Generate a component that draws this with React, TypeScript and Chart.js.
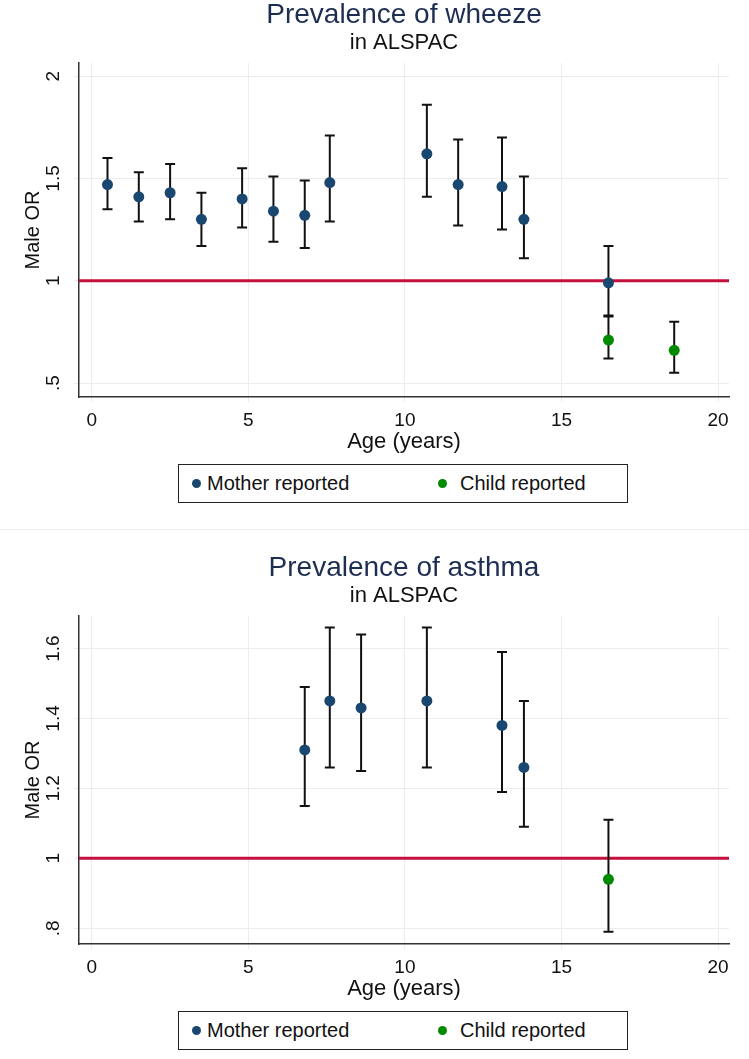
import { useEffect, useRef } from "react";
import { Chart, registerables } from "chart.js";

Chart.register(...registerables);

const FONT = "'Liberation Sans', Arial, Helvetica, sans-serif";
const NAVY = "#1a476f";
const GREEN = "#008a00";
const REF_RED = "#c4103d";
const TITLE_COLOR = "#1e2e52";

// wheeze: mother reported
const wheezeMotherAge = [0.5, 1.5, 2.5, 3.5, 4.8, 5.8, 6.8, 7.6, 10.7, 11.7, 13.1, 13.8, 16.5];
const wheezeMotherOR = [1.47, 1.41, 1.43, 1.3, 1.4, 1.34, 1.32, 1.48, 1.62, 1.47, 1.46, 1.3, 0.99];
const wheezeMotherLo = [1.35, 1.29, 1.3, 1.17, 1.26, 1.19, 1.16, 1.29, 1.41, 1.27, 1.25, 1.11, 0.825];
const wheezeMotherHi = [1.6, 1.53, 1.57, 1.43, 1.55, 1.51, 1.49, 1.71, 1.86, 1.69, 1.7, 1.51, 1.17];
// wheeze: child reported
const wheezeChildAge = [16.5, 18.6];
const wheezeChildOR = [0.71, 0.66];
const wheezeChildLo = [0.62, 0.55];
const wheezeChildHi = [0.83, 0.8];

// asthma: mother reported
const asthmaMotherAge = [6.8, 7.6, 8.6, 10.7, 13.1, 13.8];
const asthmaMotherOR = [1.31, 1.45, 1.43, 1.45, 1.38, 1.26];
const asthmaMotherLo = [1.15, 1.26, 1.25, 1.26, 1.19, 1.09];
const asthmaMotherHi = [1.49, 1.66, 1.64, 1.66, 1.59, 1.45];
// asthma: child reported
const asthmaChildAge = [16.5];
const asthmaChildOR = [0.94];
const asthmaChildLo = [0.79];
const asthmaChildHi = [1.11];

const xTicks = [0, 5, 10, 15, 20];
const wheezeYTicks = [0.5, 1, 1.5, 2];
const wheezeYLabels = [".5", "1", "1.5", "2"];
const asthmaYTicks = [0.8, 1, 1.2, 1.4, 1.6];
const asthmaYLabels = [".8", "1", "1.2", "1.4", "1.6"];
const referenceOR = 1;

function points(age: number[], or: number[], lo: number[], hi: number[]) {
  return age.map((a, i) => ({ x: a, y: or[i], lo: lo[i], hi: hi[i] }));
}

function makeDecor(yTicks: number[], yLabels: string[]) {
  return {
    id: "orDecor",
    beforeDatasetsDraw(chart: any) {
      const { ctx, chartArea, scales } = chart;
      const yRef = scales.y.getPixelForValue(referenceOR);
      ctx.save();
      ctx.strokeStyle = REF_RED;
      ctx.lineWidth = 3;
      ctx.beginPath();
      ctx.moveTo(chartArea.left, yRef);
      ctx.lineTo(chartArea.right, yRef);
      ctx.stroke();

      // confidence intervals
      ctx.strokeStyle = "#111";
      ctx.lineWidth = 2;
      chart.data.datasets.forEach((ds: any) => {
        ds.data.forEach((p: any) => {
          const x = scales.x.getPixelForValue(p.x);
          const lo = scales.y.getPixelForValue(p.lo);
          const hi = scales.y.getPixelForValue(p.hi);
          ctx.beginPath();
          ctx.moveTo(x, lo);
          ctx.lineTo(x, hi);
          ctx.moveTo(x - 5, lo);
          ctx.lineTo(x + 5, lo);
          ctx.moveTo(x - 5, hi);
          ctx.lineTo(x + 5, hi);
          ctx.stroke();
        });
      });
      ctx.restore();
    },
    afterDraw(chart: any) {
      // stata style: y tick labels turned on their side
      const { ctx, chartArea, scales } = chart;
      ctx.save();
      ctx.fillStyle = "#111";
      ctx.font = `19px ${FONT}`;
      ctx.textAlign = "center";
      ctx.textBaseline = "middle";
      yTicks.forEach((v, i) => {
        const y = scales.y.getPixelForValue(v);
        ctx.save();
        ctx.translate(chartArea.left - 25, y);
        ctx.rotate(-Math.PI / 2);
        ctx.fillText(yLabels[i], 0, 0);
        ctx.restore();
      });
      ctx.restore();
    },
  };
}

interface PanelProps {
  title: string;
  mother: any[];
  child: any[];
  yMin: number;
  yMax: number;
  yTicks: number[];
  yLabels: string[];
  canvasTop: number;
  canvasHeight: number;
  panelHeight: number;
  legendTop: number;
  border?: boolean;
}

function ORPanel(props: PanelProps) {
  const chartRef = useRef<HTMLCanvasElement>(null);
  const chartInstance = useRef<Chart | null>(null);

  useEffect(() => {
    if (!chartRef.current) return;
    const ctx = chartRef.current.getContext("2d");
    if (!ctx) return;

    if (chartInstance.current) {
      chartInstance.current.destroy();
    }

    const gridColor = "#ececec";

    chartInstance.current = new Chart(ctx, {
      type: "scatter",
      data: {
        datasets: [
          {
            label: "Mother reported",
            data: props.mother,
            backgroundColor: NAVY,
            borderColor: NAVY,
            pointRadius: 5.5,
            borderWidth: 0,
          },
          {
            label: "Child reported",
            data: props.child,
            backgroundColor: GREEN,
            borderColor: GREEN,
            pointRadius: 5.5,
            borderWidth: 0,
          },
        ],
      },
      options: {
        responsive: false,
        animation: false,
        layout: { padding: { left: 0, right: 20, top: 0, bottom: 0 } },
        plugins: {
          legend: { display: false },
          tooltip: { enabled: false },
          title: {
            display: true,
            text: props.title,
            color: TITLE_COLOR,
            fullSize: false,
            font: { family: FONT, size: 28, weight: "normal", lineHeight: 1 },
            padding: { top: 1, bottom: 0 },
          },
          subtitle: {
            display: true,
            text: "in ALSPAC",
            color: "#111",
            fullSize: false,
            font: { family: FONT, size: 22, weight: "normal", lineHeight: 1 },
            padding: { top: 3, bottom: 9 },
          },
        },
        scales: {
          x: {
            type: "linear",
            min: -0.41,
            max: 20.35,
            afterBuildTicks: (s: any) => {
              s.ticks = xTicks.map((v) => ({ value: v }));
            },
            afterFit: (s: any) => {
              s.height = 63;
            },
            grid: { color: gridColor, tickLength: 5 },
            border: { display: true, color: "#333", width: 1.5 },
            ticks: {
              color: "#111",
              padding: 7,
              maxRotation: 0,
              font: { family: FONT, size: 19 },
              callback: (v: any) => String(v),
            },
            title: {
              display: true,
              text: "Age (years)",
              color: "#111",
              font: { family: FONT, size: 22 },
              padding: { top: 0, bottom: 5 },
            },
          },
          y: {
            type: "linear",
            min: props.yMin,
            max: props.yMax,
            afterBuildTicks: (s: any) => {
              s.ticks = props.yTicks.map((v) => ({ value: v }));
            },
            afterFit: (s: any) => {
              s.width = 79;
            },
            grid: { color: gridColor, tickLength: 5 },
            border: { display: true, color: "#333", width: 1.5 },
            ticks: { display: false },
            title: {
              display: true,
              text: "Male OR",
              color: "#111",
              font: { family: FONT, size: 20 },
              padding: { top: 21, bottom: 0 },
            },
          },
        },
      },
      plugins: [makeDecor(props.yTicks, props.yLabels)],
    } as any);

    return () => {
      if (chartInstance.current) {
        chartInstance.current.destroy();
        chartInstance.current = null;
      }
    };
  }, []);

  const legendText = { position: "absolute" as const, fontSize: 20, color: "#111", top: 0, lineHeight: "37px" };
  const dot = (color: string, left: number) => ({
    position: "absolute" as const,
    left,
    top: 14,
    width: 9,
    height: 9,
    borderRadius: "50%",
    background: color,
  });

  return (
    <div
      style={{
        position: "relative",
        width: 749,
        height: props.panelHeight,
        borderBottom: props.border ? "1px solid #eeeeee" : "none",
      }}
    >
      <canvas
        ref={chartRef}
        width={749}
        height={props.canvasHeight}
        style={{ position: "absolute", left: 0, top: props.canvasTop }}
      />
      <div
        style={{
          position: "absolute",
          left: 178,
          top: props.legendTop,
          width: 450,
          height: 39,
          boxSizing: "border-box",
          border: "1px solid #222",
          fontFamily: FONT,
        }}
      >
        <div style={dot(NAVY, 13)} />
        <div style={{ ...legendText, left: 28 }}>Mother reported</div>
        <div style={dot(GREEN, 259)} />
        <div style={{ ...legendText, left: 281 }}>Child reported</div>
      </div>
    </div>
  );
}

export default function App() {
  return (
    <div style={{ width: 749, background: "#fff" }}>
      <style>{"body{margin:0;}"}</style>
      <ORPanel
        title="Prevalence of wheeze"
        mother={points(wheezeMotherAge, wheezeMotherOR, wheezeMotherLo, wheezeMotherHi)}
        child={points(wheezeChildAge, wheezeChildOR, wheezeChildLo, wheezeChildHi)}
        yMin={0.432}
        yMax={2.064}
        yTicks={wheezeYTicks}
        yLabels={wheezeYLabels}
        canvasTop={0}
        canvasHeight={460}
        panelHeight={529}
        legendTop={464}
        border
      />
      <ORPanel
        title="Prevalence of asthma"
        mother={points(asthmaMotherAge, asthmaMotherOR, asthmaMotherLo, asthmaMotherHi)}
        child={points(asthmaChildAge, asthmaChildOR, asthmaChildLo, asthmaChildHi)}
        yMin={0.755}
        yMax={1.693}
        yTicks={asthmaYTicks}
        yLabels={asthmaYLabels}
        canvasTop={23}
        canvasHeight={454}
        panelHeight={529}
        legendTop={481}
      />
    </div>
  );
}
